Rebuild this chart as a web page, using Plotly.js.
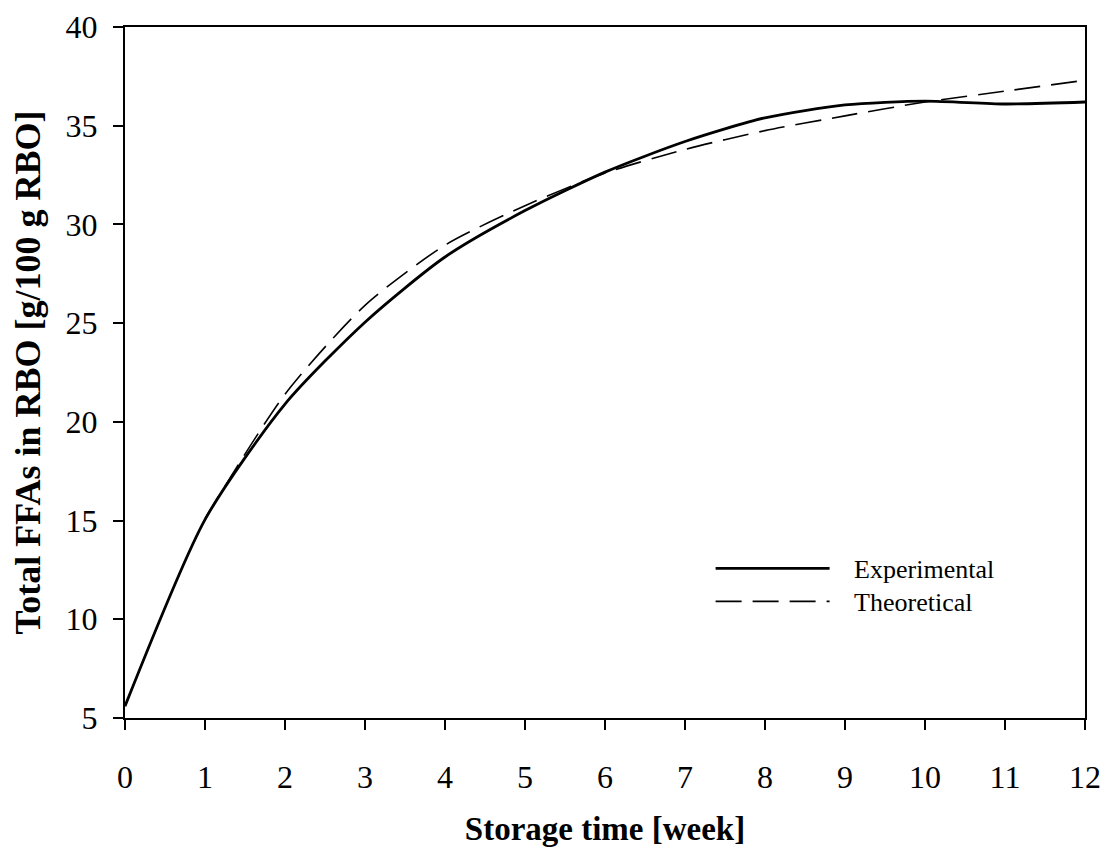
<!DOCTYPE html>
<html>
<head>
<meta charset="utf-8">
<script src="https://cdn.plot.ly/plotly-3.0.1.min.js"></script>
<style>
  html, body { margin: 0; padding: 0; background: #ffffff; }
  #chart { width: 1109px; height: 847px; }
</style>
</head>
<body>
<div id="chart"></div>
<script>
// Storage time in weeks
const weeks = [0, 1, 2, 3, 4, 5, 6, 7, 8, 9, 10, 11, 12];
// Measured total free fatty acids (g/100 g RBO)
const experimental = [5.6, 15.05, 20.9, 25.05, 28.35, 30.7, 32.65, 34.2, 35.4, 36.05, 36.25, 36.1, 36.2];
// Model prediction, starting at week 1
const theoryWeeks = [1, 2, 3, 4, 5, 6, 7, 8, 9, 10, 11, 12];
const theoretical = [15.1, 21.4, 25.9, 28.95, 30.95, 32.6, 33.8, 34.75, 35.5, 36.2, 36.75, 37.3];
// Axis tick values
const yTicks = [5, 10, 15, 20, 25, 30, 35, 40];

const serif = 'Liberation Serif, Times New Roman, serif';
const pad = '\u00a0\u00a0\u00a0';

const traces = [
  {
    x: weeks, y: experimental, name: pad + 'Experimental', type: 'scatter', mode: 'lines',
    legend: 'legend',
    line: { color: '#000000', width: 2.8, shape: 'spline', smoothing: 0.7 }
  },
  {
    x: theoryWeeks, y: theoretical, name: pad + 'Theoretical', type: 'scatter', mode: 'lines',
    legend: 'legend2',
    line: { color: '#000000', width: 1.6, dash: '26px,11px', shape: 'spline', smoothing: 0.7 }
  }
];

const legendStyle = (y) => ({
  x: 0.61, y: y, xanchor: 'left', yanchor: 'top',
  bgcolor: 'rgba(0,0,0,0)', borderwidth: 0,
  itemwidth: 114, font: { family: serif, size: 26, color: '#000000' }
});

const layout = {
  width: 1109, height: 847,
  paper_bgcolor: '#ffffff', plot_bgcolor: '#ffffff',
  margin: { l: 125, r: 24, t: 27, b: 129 },
  font: { family: serif, color: '#000000', size: 32 },
  showlegend: true,
  legend: legendStyle(0.2505),
  legend2: legendStyle(0.2027),
  xaxis: {
    range: [0, 12], tickmode: 'array', tickvals: weeks, ticktext: weeks.map(String),
    showgrid: false, zeroline: false,
    showline: true, linecolor: '#000000', linewidth: 2, mirror: true,
    ticks: 'outside', ticklen: 10, tickwidth: 2, tickcolor: '#000000',
    ticklabelstandoff: 20,
    tickfont: { family: serif, size: 32 },
    title: { text: '<b>Storage time [week]</b>', font: { family: serif, size: 33 }, standoff: 30 }
  },
  yaxis: {
    range: [5, 40], tickmode: 'array', tickvals: yTicks, ticktext: yTicks.map(String),
    showgrid: false, zeroline: false,
    showline: true, linecolor: '#000000', linewidth: 2, mirror: true,
    ticks: 'outside', ticklen: 10, tickwidth: 2, tickcolor: '#000000',
    ticklabelstandoff: 9,
    tickfont: { family: serif, size: 32 },
    title: { text: '<b>Total FFAs in RBO [g/100 g RBO]</b>', font: { family: serif, size: 36 }, standoff: 14 }
  }
};

Plotly.newPlot('chart', traces, layout, { displayModeBar: false, staticPlot: true });
</script>
</body>
</html>
